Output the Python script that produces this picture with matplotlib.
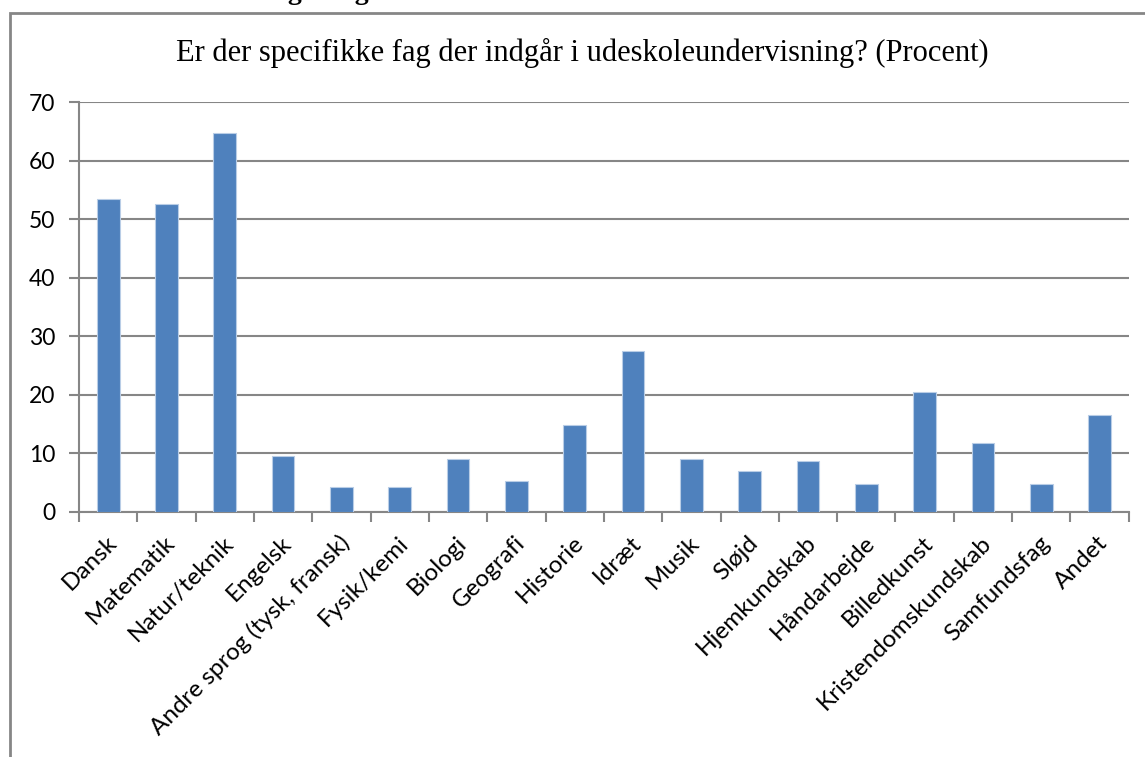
import numpy as np
import matplotlib.pyplot as plt
from matplotlib.patches import Rectangle
from matplotlib.transforms import ScaledTranslation

# Andel (procent) pr. fag
fag = ['Dansk', 'Matematik', 'Natur/teknik', 'Engelsk', 'Andre sprog (tysk, fransk)',
       'Fysik/kemi', 'Biologi', 'Geografi', 'Historie', 'Idræt', 'Musik', 'Sløjd',
       'Hjemkundskab', 'Håndarbejde', 'Billedkunst', 'Kristendomskundskab',
       'Samfundsfag', 'Andet']
procent = [53.5, 52.6, 64.7, 9.6, 4.3, 4.3, 9.1, 5.2, 14.8, 27.4, 9.1, 7.0,
           8.6, 4.7, 20.4, 11.7, 4.7, 16.5]
y_ticks = [0, 10, 20, 30, 40, 50, 60, 70]

grey = '#868686'

fig = plt.figure(figsize=(11.45, 7.57), dpi=100)
ax = fig.add_axes([0.069, 0.324, 0.9168, 0.5409])

x = np.arange(len(fag)) + 0.5
ax.bar(x, procent, width=0.39, color='#4F81BD', edgecolor='#b9cde6', linewidth=0.8, zorder=3)

ax.set_xlim(0, len(fag))
ax.set_ylim(0, 70)
ax.set_yticks(y_ticks)
ax.yaxis.grid(True, color=grey, linewidth=1.5, zorder=0)

# tick marks between categories, labels at category centres
ax.set_xticks(np.arange(len(fag) + 1))
ax.set_xticklabels([])
ax.set_xticks(x, minor=True)
ax.set_xticklabels(fag, minor=True, rotation=45, ha='right', va='center',
                   rotation_mode='anchor', fontsize=17.5, family='Lato')
ax.tick_params(axis='x', which='major', length=7, width=1.5, color=grey)
ax.tick_params(axis='x', which='minor', length=0, pad=20)
ax.tick_params(axis='y', length=7, width=1.5, color=grey, labelsize=16.5, pad=10)
for lab in ax.get_yticklabels():
    lab.set_family('Lato')
shift = ScaledTranslation(5 / 100, 0, fig.dpi_scale_trans)
for lab in ax.get_xticklabels(minor=True):
    lab.set_transform(lab.get_transform() + shift)

for s in ['top', 'right']:
    ax.spines[s].set_visible(False)
for s in ['left', 'bottom']:
    ax.spines[s].set_color(grey)
    ax.spines[s].set_linewidth(1.5)

fig.text(0.509, 1 - 53 / 757, 'Er der specifikke fag der indgår i udeskoleundervisning? (Procent)',
         ha='center', va='center', fontsize=22, family='Liberation Serif')

# chart area frame (cut off at right and bottom)
fig.patches.append(Rectangle((9.5 / 1145, -0.1), 1.2, 1 - 13 / 757 + 0.1,
                             transform=fig.transFigure, fill=False,
                             edgecolor=grey, linewidth=2))

# clipped heading above the chart, only descenders visible
fig.text(302 / 1145, 1 + 1 / 757, 'ag', ha='right', va='baseline', fontsize=20,
         family='Liberation Serif', weight='bold')
fig.text(369 / 1145, 1 + 1 / 757, 'og', ha='right', va='baseline', fontsize=20,
         family='Liberation Serif', weight='bold')

fig.savefig('out.png', dpi=100)
